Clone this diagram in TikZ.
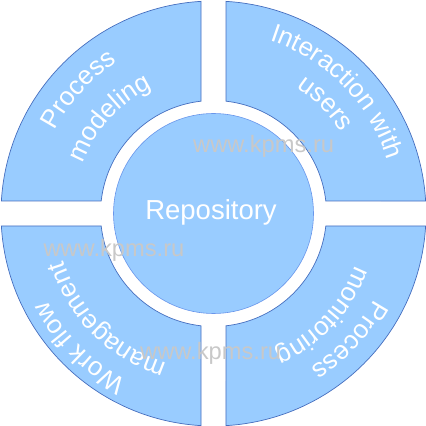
\documentclass[tikz,border=0pt]{standalone}
\usepackage{fontspec}
\setmainfont{Liberation Sans}
\usetikzlibrary{decorations.text}
\definecolor{segfill}{HTML}{99CCFF}
\definecolor{segline}{RGB}{70,110,190}
\definecolor{circline}{RGB}{105,150,235}
\definecolor{wmark}{RGB}{200,200,200}
\newcommand\lblfont{\fontsize{26}{31}\selectfont}
\tikzset{
  seg/.style={fill=segfill, draw=segline, line width=0.7pt},
  hub/.style={fill=segfill, draw=circline, line width=0.6pt},
  lbl/.style={decorate, decoration={text along path, text align=center, text color=white}},
  wm/.style={anchor=base west, inner sep=0pt, text=wmark, font=\fontsize{23.7}{28}\selectfont},
}
\begin{document}
\begin{tikzpicture}[x=1pt,y=1pt]
\useasboundingbox (0,0) rectangle (426,426);
\coordinate (C) at (213.5,212.5);
% ring segments
\foreach \r in {0,90,180,270} {
  \begin{scope}[shift={(C)}, rotate=\r]
    \draw[seg] (12.5,112.31) -- (12.5,212.13)
      arc[start angle=86.63, end angle=3.37, radius=212.5pt]
      -- (112.31,12.5)
      arc[start angle=6.35, end angle=83.65, radius=113pt] -- cycle;
  \end{scope}
}
% hub
\draw[hub] (C) circle[radius=100pt];
\node[anchor=base, inner sep=0pt, text=white, font=\fontsize{27.5}{33}\selectfont] (repo) at (211,206) {Repository};
% labels
\path[lbl, decoration={text={|\lblfont|Process}}] (C) ++(173:179pt) arc[start angle=173, end angle=102, radius=179pt];
\path[lbl, decoration={text={|\lblfont|modeling}}] (C) ++(173:140pt) arc[start angle=173, end angle=102, radius=140pt];
\path[lbl, decoration={text={|\lblfont|Interaction with}}] (C) ++(82:182pt) arc[start angle=82, end angle=7, radius=182pt];
\path[lbl, decoration={text={|\lblfont|users}}] (C) ++(82:151pt) arc[start angle=82, end angle=7, radius=151pt];
\path[lbl, decoration={text={|\lblfont|Process}}] (C) ++(-8:182pt) arc[start angle=-8, end angle=-78, radius=182pt];
\path[lbl, decoration={text={|\lblfont|monitoring}}] (C) ++(-8:151pt) arc[start angle=-8, end angle=-78, radius=151pt];
\path[lbl, decoration={text={|\lblfont|Work flow}}] (C) ++(-98:188pt) arc[start angle=-98, end angle=-172, radius=188pt];
\path[lbl, decoration={text={|\lblfont|management}}] (C) ++(-98:157pt) arc[start angle=-98, end angle=-172, radius=157pt];
% watermarks
\node[wm] (wm1) at (193,273) {www.kpms.ru};
\node[wm] (wm2) at (43.3,169.5) {www.kpms.ru};
\node[wm] (wm3) at (140,66) {www.kpms.ru};
\end{tikzpicture}
\end{document}
